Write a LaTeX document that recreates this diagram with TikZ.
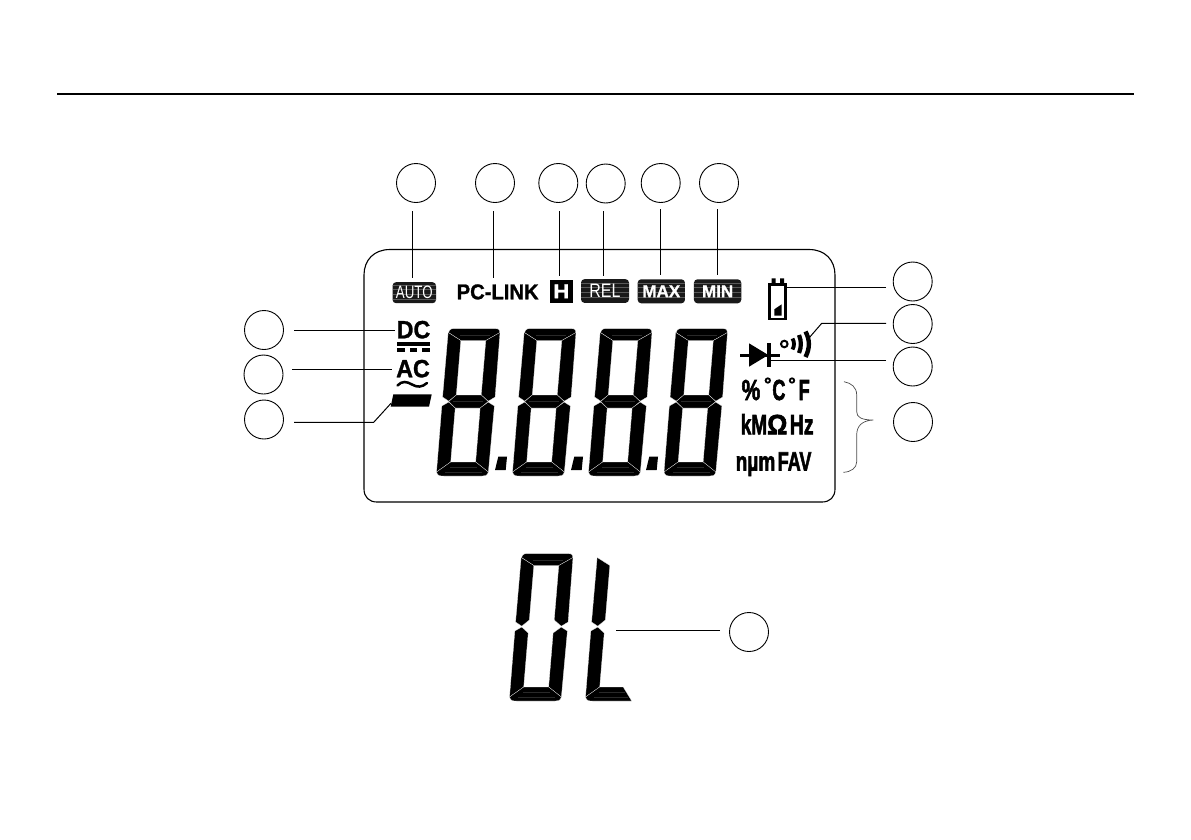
\documentclass[tikz,border=0pt]{standalone}
\usepackage{fontspec}
\setmainfont[BoldFeatures={FakeBold=1.2}]{Liberation Sans}
\newfontfamily\unitf[BoldFeatures={FakeBold=2.5}]{Liberation Sans}
\newcommand\fsz[1]{\fontsize{#1}{#1}\selectfont}
\newcommand\nar[2]{\scalebox{#1}[1]{#2}}
\tikzset{
  numc/.style={circle,draw=black,line width=.9pt,minimum size=39pt,inner sep=0pt,fill=white},
  conn/.style={draw=black,line width=1pt},
  seg/.style={fill=black,draw=white,line width=.2pt},
  streak/.style={draw=black!84,line width=.4pt},
  badge/.style={rounded corners=3.5pt,fill=black!90,inner sep=0pt,text=white,
    path picture={\foreach \yy in {-6,-1,4,8}
      \draw[black!65,line width=.4pt] ([yshift=\yy pt]path picture bounding box.west) -- ([yshift=\yy pt]path picture bounding box.east);}},
  lab/.style={inner sep=0pt,anchor=base west,font=\bfseries},
  ulab/.style={inner sep=0pt,anchor=base west,font=\unitf\bfseries},
}
\newcommand\segT{\path[seg] (13.5,135.5) -- (.5,143.5) .. controls (1.5,147.5) and (4,147.5) .. (8,147.5) -- (46,147.5) .. controls (49,147.5) and (51,147.5) .. (52,143.5) -- (38.5,135.5) -- cycle;
  \path[streak] (12,141) -- (42,141);}
\newcommand\segUL{\path[seg] (13.5,135.5) -- (.2,143.5) -- (0,79) -- (6.5,74.9) -- (13.5,81) -- cycle;}
\newcommand\segUR{\path[seg] (38.5,135.5) -- (52,143.5) -- (52.5,79) -- (46,74.9) -- (38.5,81) -- cycle;}
\newcommand\segM{\path[seg] (6.5,74.5) -- (13.5,81) -- (38.5,81) -- (46,74.5) -- (38.5,68) -- (13.5,68) -- cycle;
  \path[streak] (11,75) -- (41,75);}
\newcommand\segLL{\path[seg] (6.5,73.9) -- (13.5,68) -- (13.5,14) -- (.2,4) -- (0,70) -- cycle;}
\newcommand\segLR{\path[seg] (46,73.9) -- (38.5,68) -- (38.5,14) -- (52,4) -- (52.5,70) -- cycle;}
\newcommand\segB{\path[seg] (13.5,14) -- (.2,4) .. controls (1.5,0) and (4,0) .. (8,0) -- (46,0) .. controls (49,0) and (51,0) .. (52,4) -- (38.5,14) -- cycle;
  \path[streak] (9,4) -- (46,4) (13,9) -- (40,9);}
\newcommand\lcdeight[2]{\begin{scope}[shift={(#1,#2)},x=1pt,y={(0.0835pt,1pt)}]\segT\segUL\segUR\segM\segLL\segLR\segB\end{scope}}
\newcommand\lcdzero[2]{\begin{scope}[shift={(#1,#2)},x=1pt,y={(0.0835pt,1pt)}]\segT\segUL\segUR\segLL\segLR\segB\end{scope}}
\newcommand\lcdell[2]{\begin{scope}[shift={(#1,#2)},x=1pt,y={(0.0835pt,1pt)}]\segUL\segLL
  \path[seg] (13.5,14) -- (.2,4) .. controls (1.5,0) and (4,0) .. (8,0) -- (46.7,0) -- (37,14) -- cycle;
  \path[streak] (9,4) -- (43,4) (13,9) -- (39,9);\end{scope}}
\newcommand\lcddot[1]{\path[fill=black] (#1,470) -- (#1+3.3,456.7) -- (#1+12,456.7) -- (#1+10.7,470) -- cycle;}
\begin{document}
\begin{tikzpicture}[x=1pt,y=-1pt]
\useasboundingbox (0,0) rectangle (1191,839);
% top rule
\coordinate (ruleL) at (57,94); \coordinate (ruleR) at (1134,94);
\draw[line width=1.4pt] (ruleL) -- (ruleR);
% frame
\draw[line width=1.1pt] (390,249.5) -- (809,249.5) .. controls (825,249.5) and (835,260) .. (835,275) -- (835,489)
  .. controls (835,497) and (830,502) .. (822,502) -- (377,502) .. controls (369,502) and (364,497) .. (364,489)
  -- (364,275) .. controls (364,260) and (374,249.5) .. (390,249.5) -- cycle;
% digits
\lcdeight{436}{476}\lcdeight{512}{476}\lcdeight{588}{476}\lcdeight{663.5}{476}
\lcddot{495}\lcddot{571}\lcddot{646}
\lcdzero{509}{701}\lcdell{585}{701}
% callout circles
\node[numc] (c1) at (416,183) {};
\node[numc] (c2) at (495,183) {};
\node[numc] (c3) at (558.3,183) {};
\node[numc] (c4) at (605.7,183.5) {};
\node[numc] (c5) at (660.7,183) {};
\node[numc] (c6) at (719,183) {};
\node[numc] (c7) at (912.7,281.5) {};
\node[numc] (c8) at (912.7,324) {};
\node[numc] (c9) at (912.7,366.5) {};
\node[numc] (c10) at (913,422) {};
\node[numc] (c11) at (264,330) {};
\node[numc] (c12) at (263.5,374.5) {};
\node[numc] (c13) at (264,419.5) {};
\node[numc] (c14) at (749,632) {};
% badges
\node[badge,minimum width=43.5pt,minimum height=21pt] (auto) at (414.3,292.7) {\fsz{18}\nar{.74}{AUTO}};
\node[lab] (pclink) at (456.5,299.3) {\fsz{21.5}\nar{.94}{PC-LINK}};
\node[rectangle,fill=black,inner sep=0pt,minimum width=22.7pt,minimum height=22.7pt,text=white,font=\bfseries] (hold) at (561.3,291.3) {\fsz{20}\nar{1.1}{H}};
\node[badge,minimum width=48pt,minimum height=23.7pt] (rel) at (605,291) {\fsz{19.5}\nar{.82}{REL}};
\node[badge,minimum width=47.3pt,minimum height=24pt,font=\bfseries] (max) at (661.3,291.3) {\fsz{17}MAX};
\node[badge,minimum width=47.3pt,minimum height=24pt,font=\bfseries] (min) at (717.6,291.3) {\fsz{17}MIN};
% DC / AC / bar
\node[lab] (dc) at (396.5,338.3) {\fsz{25}\nar{.93}{DC}};
\path[fill=black] (397.3,341.7) rectangle (430,345.5);
\foreach \xa/\xb in {397.3/405,410/417.3,422.3/430}{\path[fill=black] (\xa,348.3) rectangle (\xb,351.7);}
\node[lab] (ac) at (396,377.3) {\fsz{25}\nar{.93}{AC}};
\draw[line width=2.5pt,line cap=round] (397.5,385.5) .. controls (402,380.5) and (407,381.5) .. (412,384.5) .. controls (417,387.5) and (422,387.5) .. (427,383);
\path[fill=black] (393.3,394.3) -- (431.7,394.3) -- (429,406.7) -- (390.7,406.7) -- cycle;
% battery
\draw[line width=2.6pt] (769.6,284.6) rectangle (785.4,319);
\path[fill=black] (771.7,278.3) rectangle (775.7,284) (780,278.3) rectangle (784,284);
\path[fill=black] (774.3,309.3) -- (781.7,304.3) -- (781.7,315.5) -- (774.3,315.5) -- cycle;
% sound
\draw[line width=2pt] (784.3,344) circle (3.3pt);
\draw[line width=3.8pt] (792.5,338.5) .. controls (794.5,342) and (794.5,346) .. (792.5,349.5);
\draw[line width=4.2pt] (799,335) .. controls (801.5,341) and (801.5,347) .. (799,353);
\draw[line width=4.4pt] (805.5,331.5) .. controls (810,340) and (810,348) .. (805.5,357);
% diode
\path[fill=black] (749,343.3) -- (749,366.7) -- (768.3,355) -- cycle;
\path[fill=black] (767.3,342.7) rectangle (770.7,367.3);
\draw[line width=3pt] (740,355) -- (780,355);
% units
\node[ulab] (pct) at (741.5,400) {\fsz{29}\nar{.72}{\%}};
\node[ulab] (degc) at (772.2,400) {\fsz{29}\nar{.62}{C}};
\node[ulab] (degf) at (798.5,400) {\fsz{29}\nar{.62}{F}};
\draw[line width=1.8pt] (767.8,380.5) circle (2.2pt) (792,380.5) circle (2.2pt);
\node[ulab] (kohm) at (740.5,434.3) {\fsz{28}\nar{.68}{kM}};
\node[ulab] (omega) at (767,434.3) {\fsz{28}\nar{.9}{Ω}};
\node[ulab] (hz) at (789.5,434.3) {\fsz{28}\nar{.7}{Hz}};
\node[ulab] (num) at (735.5,470.5) {\fsz{26.5}\nar{.72}{nµm}};
\node[ulab] (fav) at (777.5,470.5) {\fsz{26.5}\nar{.68}{FAV}};
% bracket
\draw[black!70,line width=.7pt] (844,381.7) .. controls (851,383) and (856.7,387) .. (856.7,395) -- (856.7,411.7) .. controls (856.7,417) and (861,420) .. (873.3,420)
  .. controls (862,420.5) and (856.7,426) .. (856.7,435) -- (856.7,461.7) .. controls (856.7,468) and (851,472) .. (843.3,472.3);
% connector ends
\coordinate (s1) at (412.3,211); \coordinate (e1) at (412.3,278);
\coordinate (s2) at (493.3,211); \coordinate (e2) at (493.3,278);
\coordinate (s3) at (559.3,211); \coordinate (e3) at (559.3,276);
\coordinate (s4) at (603.3,211); \coordinate (e4) at (603.3,276);
\coordinate (s5) at (660.3,209); \coordinate (e5) at (660.3,275);
\coordinate (s6) at (717.3,209); \coordinate (e6) at (717.3,275);
\draw[conn] (s1) -- (e1); \draw[conn] (s2) -- (e2); \draw[conn] (s3) -- (e3);
\draw[conn] (s4) -- (e4); \draw[conn] (s5) -- (e5); \draw[conn] (s6) -- (e6);
\coordinate (s7) at (886,287); \coordinate (e7) at (786.7,287);
\coordinate (s8) at (886,323.3); \coordinate (b8) at (821.7,323.3); \coordinate (e8) at (809,338);
\coordinate (s9) at (886,360); \coordinate (e9) at (770,360);
\draw[conn] (s7) -- (e7); \draw[conn] (s8) -- (b8) -- (e8); \draw[conn] (s9) -- (e9);
\coordinate (s11) at (294,330.3); \coordinate (e11) at (395,330.3);
\coordinate (s12) at (292.3,369.3); \coordinate (e12) at (392,369.3);
\coordinate (s13) at (294,422.3); \coordinate (b13) at (373.7,422.3); \coordinate (e13) at (391,403.3);
\draw[conn] (s11) -- (e11); \draw[conn] (s12) -- (e12); \draw[conn] (s13) -- (b13) -- (e13);
\coordinate (s14) at (720,630); \coordinate (e14) at (616,630);
\draw[conn] (s14) -- (e14);
\end{tikzpicture}
\end{document}
